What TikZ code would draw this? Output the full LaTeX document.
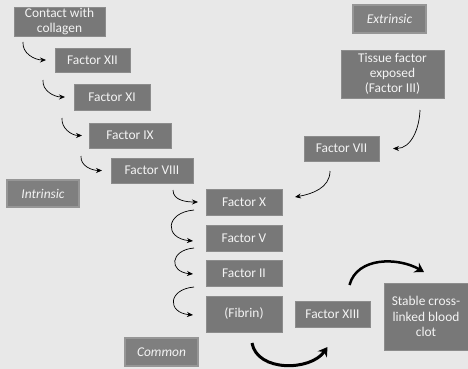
\documentclass[tikz,border=0pt]{standalone}
\usepackage{fontspec}
\setmainfont{Carlito}
\usetikzlibrary{arrows.meta}
\usetikzlibrary{positioning}

\definecolor{bggray}{HTML}{E8E8E8}
\definecolor{boxgray}{HTML}{787878}
\definecolor{boxedge}{HTML}{8C8C8C}
\definecolor{tagedge}{HTML}{969696}
\definecolor{txtwhite}{HTML}{F4F4F4}

\begin{document}
\begin{tikzpicture}[x=1pt, y=1pt,
        factor/.style={rectangle, fill=boxgray, draw=boxedge, line width=0.6pt, text=txtwhite,
            align=center, inner sep=1pt, outer sep=0pt, font=\fontsize{13.4}{14.8}\selectfont,
            minimum width=76pt, minimum height=26pt},
        tag/.style={factor, fill=boxgray!95!white, draw=tagedge, line width=1.6pt,
            font=\fontsize{13.4}{14.8}\selectfont\itshape, minimum width=72pt, minimum height=27pt},
        flow/.style={-{Stealth[length=6pt, width=5pt]}, line width=0.7pt},
        bigflow/.style={-{Stealth[length=9pt, width=11pt]}, line width=3pt}]
        \fill[bggray] (0,0) rectangle (468,-369);
        \useasboundingbox (0,0) rectangle (468,-369);

        % intrinsic chain
        \node[factor, minimum width=91pt, minimum height=29pt] at (59.5,-21.5) (coll) {Contact with\\collagen};
        \node[factor, minimum width=75pt, minimum height=24pt, below right=12pt and -50pt of coll] (xii) {Factor XII};
        \node[factor, below right=12pt and -56pt of xii] (xi) {Factor XI};
        \node[factor, minimum width=82pt, minimum height=25pt, below right=13pt and -61pt of xi] (ix) {Factor IX};
        \node[factor, minimum width=82pt, minimum height=25pt, below right=10pt and -60pt of ix] (viii) {Factor VIII};

        % common chain
        \node[factor, below right=6pt and 13pt of viii] (x) {Factor X};
        \node[factor, below=10pt of x] (v) {Factor V};
        \node[factor, below=9pt of v] (ii) {Factor II};
        \node[factor, minimum height=36pt, below=10pt of ii] (fib) {(Fibrin)};
        \node[factor, minimum width=75pt, right=13pt of fib] (xiii) {Factor XIII};
        \node[factor, minimum width=84pt, minimum height=67pt, font=\fontsize{13.4}{15.4}\selectfont,
            right=14pt of xiii, yshift=-2.5pt] (clot) {Stable cross-\\linked blood\\clot};

        % extrinsic chain
        \node[factor, minimum width=75pt, minimum height=25pt, above right=28pt and 22pt of x] (vii) {Factor VII};
        \node[factor, minimum width=103pt, minimum height=48pt, above right=38pt and -38pt of vii] (tis) {Tissue factor\\exposed\\(Factor III)};

        % pathway labels
        \node[tag, minimum width=73pt, minimum height=28pt, above=17pt of tis, xshift=-3pt] (ext) {Extrinsic};
        \node[tag, below left=-3pt and 32pt of viii] (intr) {Intrinsic};
        \node[tag, minimum width=73pt, minimum height=28pt, below left=6pt and 8pt of fib] (com) {Common};

        \draw[flow] ([xshift=9pt, yshift=-6pt]coll.south west) to[out=-95, in=180] ([xshift=-9pt]xii.west);
        \draw[flow] ([xshift=-12pt, yshift=-8pt]xii.south west) to[out=-95, in=180] ([xshift=-9pt]xi.west);
        \draw[flow] ([xshift=-12pt, yshift=-8pt]xi.south west) to[out=-95, in=180] ([xshift=-7pt]ix.west);
        \draw[flow] ([xshift=-8pt, yshift=-8pt]ix.south west) to[out=-95, in=180] ([xshift=-9pt]viii.west);
        \draw[flow] ([xshift=-20pt, yshift=-7pt]viii.south east) to[out=-90, in=180] ([xshift=-8pt]x.west);

        \draw[flow] ([xshift=-12pt, yshift=5pt]x.south west) to[out=185, in=175, looseness=2.4] ([xshift=-13pt, yshift=-3pt]v.west);
        \draw[flow] ([xshift=-12pt, yshift=3pt]v.south west) to[out=185, in=175, looseness=2.4] ([xshift=-13pt, yshift=-1pt]ii.west);
        \draw[flow] ([xshift=-12pt, yshift=-1pt]ii.south west) to[out=185, in=175, looseness=2.4] ([xshift=-13pt, yshift=-1pt]fib.west);

        \draw[flow] ([xshift=-24pt, yshift=-12pt]tis.south east) to[out=-92, in=0] ([xshift=14pt]vii.east);
        \draw[flow] ([xshift=26pt, yshift=-10pt]vii.south west) to[out=-90, in=10] ([xshift=13pt, yshift=5pt]x.east);

        \draw[bigflow] ([xshift=8pt, yshift=-11pt]fib.south) to[out=-80, in=-125] ([xshift=-5pt, yshift=-20pt]xiii.south);
        \draw[bigflow, line width=2.5pt] ([xshift=17pt, yshift=16pt]xiii.north) to[out=75, in=150] ([xshift=-2pt, yshift=11pt]clot.north);
\end{tikzpicture}
\end{document}
